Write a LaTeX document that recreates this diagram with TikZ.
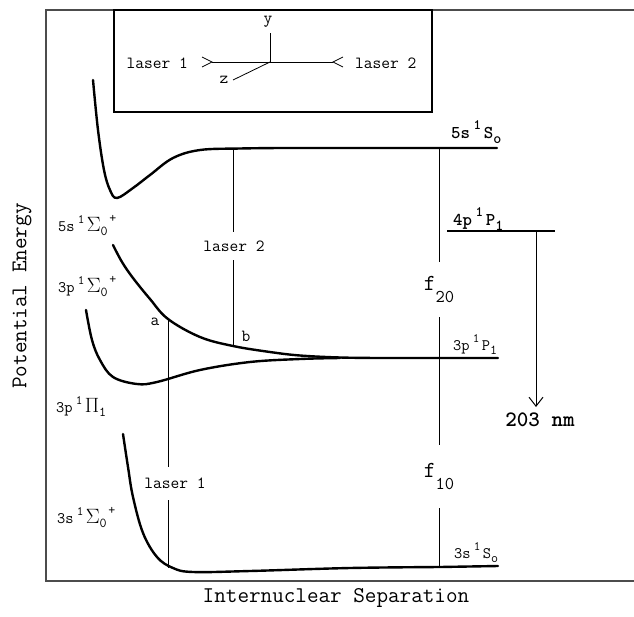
\documentclass[tikz,border=0pt]{standalone}
\usetikzlibrary{arrows.meta,calc}
\definecolor{FrameClr}{rgb}{0.3,0.3,0.3}
\newcommand{\trm}[5]{#1\kern.2em\raisebox{.5em}{\scalebox{.8}{#2}}\kern.15em#3\raisebox{-.3em}{\scalebox{.85}{#4}}\kern.1em\raisebox{.55em}{\scalebox{.85}{#5}}}
\newcommand{\gk}[1]{\scalebox{1.2}{$#1$}}
\newcommand{\fsub}[2]{f\raisebox{-0.5em}{\fontsize{#2}{#2}\selectfont #1}}

\begin{document}
\begin{tikzpicture}[x=1pt,y=-1pt,
  curve/.style={line width=2.4pt,line cap=round},
  beam/.style={line width=0.8pt},
  axlab/.style={font=\ttfamily\fontsize{22.5}{24}\selectfont,inner sep=0pt},
  lab/.style={font=\ttfamily\fontsize{17}{20}\selectfont,inner sep=0pt},
  state/.style={font=\ttfamily\fontsize{16}{18}\selectfont,inner sep=0pt,anchor=base west},
  bstate/.style={state,font=\ttfamily\bfseries\fontsize{18}{20}\selectfont},
  gap/.style={lab,fill=white}]
\useasboundingbox (0,0) rectangle (634,616);

\draw[line width=1.3pt,color=FrameClr] (634,10) -- (46,10) -- (46,581) -- (634,581);
\draw[line width=1.2pt] (114,10) rectangle (432,112);

% inset: beam geometry
\coordinate (O) at (270,62);
\coordinate (Y) at (270,33);
\coordinate (Z) at (233,80);
\coordinate (L1) at (212,62);
\coordinate (L2) at (333,62);
\draw[beam] (O) -- (Y);
\draw[beam] (O) -- (Z);
\draw[beam] (L1) -- (L2);
\draw[beam] ($(L1)+(-10,-5)$) -- (L1) -- ($(L1)+(-10,5)$);
\draw[beam] ($(L2)+(10,-5)$) -- (L2) -- ($(L2)+(10,5)$);
\node[lab] (ylab) at (268,22) {y};
\node[lab] (zlab) at (224,80) {z};
\node[lab,anchor=base east] (in1) at (188,68) {laser 1};
\node[lab,anchor=base west] (in2) at (355,68) {laser 2};

% potential curves
\draw[curve] plot[smooth,tension=0.6] coordinates {(93,80) (98,130) (104,170) (110,190) (117,198)
  (133,188) (150,175) (173,158) (200,150) (240,148.5) (280,148)} -- (497,148);
\draw[curve] plot[smooth,tension=0.6] coordinates {(113,245) (122,262) (133,278) (150,299) (168,319)
  (200,337) (233,346) (270,352) (300,355.5) (340,357.5) (380,358)} -- (498,358);
\draw[curve] plot[smooth,tension=0.6] coordinates {(86,310) (92,340) (100,360) (113,377) (137,384)
  (157,382) (200,370) (250,362) (300,359) (340,358)};
\draw[curve] plot[smooth,tension=0.6] coordinates {(123,434) (128,467) (133,497) (143,533) (157,557)
  (173,568) (193,572) (250,571) (350,568) (440,567)} -- (498,566);

\node[state] (s5) at (58,231) {\trm{5s}{1}{\gk{\Sigma}}{0}{+}};
\node[state] (p3) at (58,292) {\trm{3p}{1}{\gk{\Sigma}}{0}{+}};
\node[state] (pi3) at (56,412) {\trm{3p}{1}{\gk{\Pi}}{1}{}};
\node[state] (s3) at (57,523) {\trm{3s}{1}{\gk{\Sigma}}{0}{+}};

% atomic levels
\node[bstate] (a5s) at (451,138) {\trm{5s}{1}{S}{o}{}};
\node[bstate] (a4p) at (453,225) {\trm{4p}{1}{P}{1}{}};
\node[state] (a3p) at (453,350) {\trm{3p}{1}{P}{1}{}};
\node[state] (a3s) at (454,558) {\trm{3s}{1}{S}{o}{}};
\coordinate (p4l) at (447,231);
\coordinate (p4r) at (555,231);
\draw[line width=1.3pt] (p4l) -- (p4r);
\coordinate (p4a) at (536,231);
\node[bstate,anchor=north,inner sep=6pt,font=\ttfamily\bfseries\fontsize{22}{24}\selectfont] (nm) at (540,407) {203 nm};
\draw[line width=1pt,-{Straight Barb[length=9pt,width=14pt]}] (p4a) -- (p4a |- nm.north);

% transitions
\coordinate (a) at (168,319);
\coordinate (g1) at (168,568);
\coordinate (b) at (233,346);
\coordinate (u2) at (233,148);
\coordinate (f2t) at (439,148);
\coordinate (f1b) at (439,566);
\node[gap,minimum height=33pt] (las1) at (175,483.5) {laser 1};
\node[gap,minimum height=28pt] (las2) at (234,246) {laser 2};
\node[gap,font=\ttfamily\fontsize{23}{25}\selectfont,minimum height=55pt] (f20) at (439,289.5) {\fsub{20}{18}};
\node[gap,font=\ttfamily\fontsize{23}{25}\selectfont,minimum height=63pt] (f10) at (439,476.5) {\fsub{10}{18}};
\draw[beam] (a) -- (a |- las1.north);
\draw[beam] (a |- las1.south) -- (g1);
\draw[beam] (u2) -- (u2 |- las2.north);
\draw[beam] (u2 |- las2.south) -- (b);
\draw[beam] (f2t) -- (f20);
\draw[beam] (f20) -- (f10);
\draw[beam] (f10) -- (f1b);
\node[lab] (la) at (155,322) {a};
\node[lab] (lb) at (246,336) {b};

\node[axlab,rotate=90] (yax) at (22,296) {Potential Energy};
\node[axlab,anchor=base] (xax) at (336,602) {Internuclear Separation};
\end{tikzpicture}
\end{document}
